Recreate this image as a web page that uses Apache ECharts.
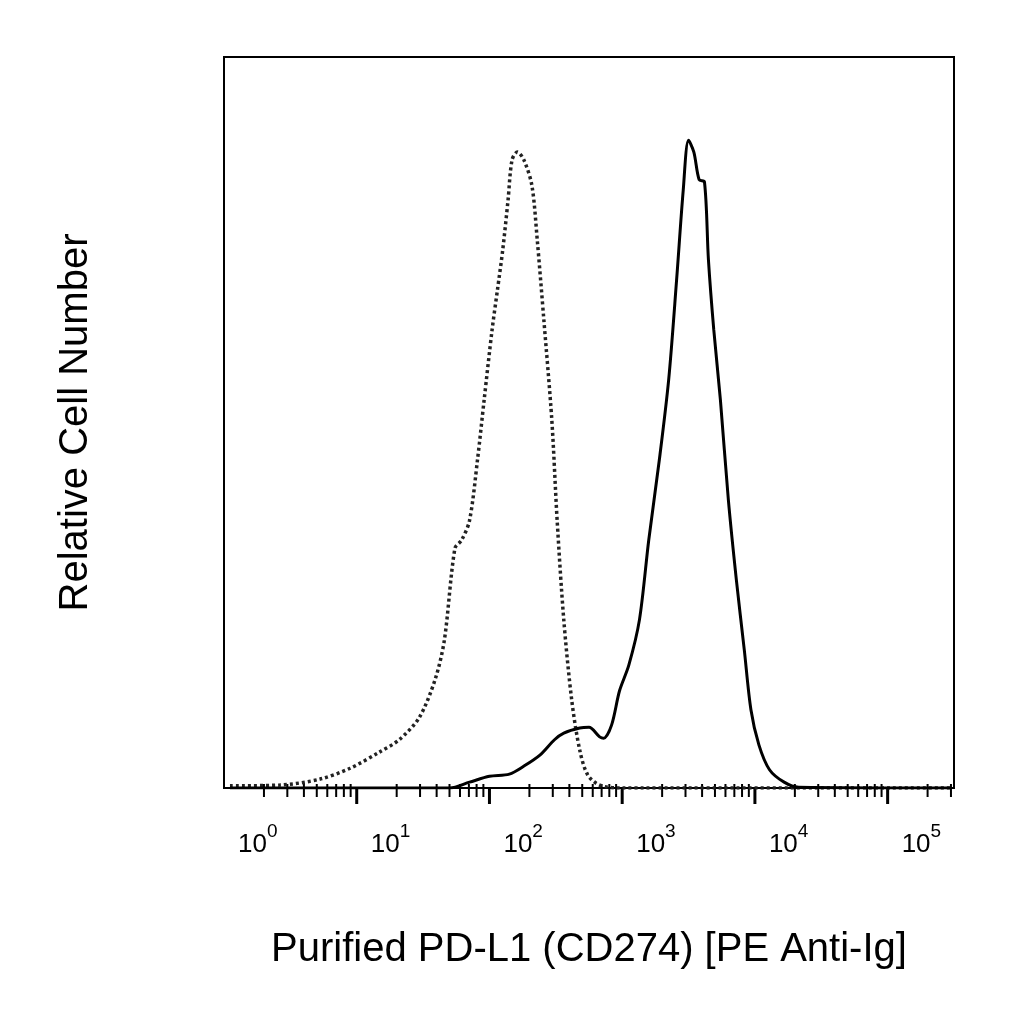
<!DOCTYPE html><html><head><meta charset="utf-8"><script src="https://cdn.jsdelivr.net/npm/echarts@6/dist/echarts.min.js"></script>
<style>html,body{margin:0;background:#fff}#c{width:1024px;height:1024px}</style></head><body><div id="c"></div><script>
// x values are log10(fluorescence), y relative count
const isotype = [[0.045,0.003],[0.42,0.004],[0.72,0.012],[0.95,0.027],[1.17,0.049],[1.32,0.066],[1.47,0.096],[1.59,0.148],[1.66,0.202],[1.74,0.328],[1.79,0.339],[1.85,0.366],[1.91,0.449],[1.96,0.531],[2.02,0.627],[2.06,0.681],[2.10,0.736],[2.14,0.804],[2.17,0.859],[2.21,0.870],[2.26,0.859],[2.32,0.824],[2.36,0.750],[2.41,0.640],[2.47,0.503],[2.51,0.366],[2.56,0.230],[2.62,0.120],[2.68,0.052],[2.74,0.018],[2.83,0.004],[2.98,0],[5.48,0]];
const pdl1 = [[0.045,0],[1.70,0],[1.85,0.008],[2.00,0.016],[2.15,0.019],[2.26,0.030],[2.38,0.045],[2.49,0.066],[2.56,0.075],[2.68,0.082],[2.75,0.083],[2.83,0.070],[2.86,0.068],[2.92,0.086],[2.98,0.133],[3.05,0.168],[3.13,0.230],[3.20,0.339],[3.28,0.449],[3.35,0.558],[3.41,0.695],[3.46,0.818],[3.50,0.886],[3.54,0.870],[3.58,0.832],[3.62,0.829],[3.65,0.722],[3.69,0.627],[3.74,0.531],[3.80,0.394],[3.86,0.285],[3.92,0.189],[3.97,0.107],[4.03,0.059],[4.11,0.025],[4.22,0.008],[4.33,0.001],[5.48,0]];
const decades = [0,1,2,3,4,5];
const minorMultipliers = [2,3,4,5,6,7,8,9];
const tickData = [];
decades.forEach(d=>{ if(d>0) tickData.push([d,1]); minorMultipliers.forEach(m=>{const v=d+Math.log10(m); if(v<=5.48) tickData.push([v,0]);}); });
const chart = echarts.init(document.getElementById('c'));
chart.setOption({
  animation:false,
  grid:{left:224,right:70,top:57,bottom:236,show:true,borderColor:'#000',borderWidth:2},
  xAxis:{type:'value',min:0,max:5.5,interval:1,axisLine:{lineStyle:{color:'#000',width:2}},axisTick:{show:false},splitLine:{show:false},
    axisLabel:{margin:34,align:'left',padding:[0,0,0,14],color:'#000',showMaxLabel:false,
      formatter:v=>Number.isInteger(v)?'{b|10}{s|'+v+'}':'',
      rich:{b:{fontSize:26,fontFamily:'Liberation Sans',color:'#000',padding:[10,0,0,0]},s:{fontSize:19,fontFamily:'Liberation Sans',color:'#000',verticalAlign:'top',padding:[0,0,14,0]}}},
    name:'Purified PD-L1 (CD274) [PE Anti-Ig]',nameLocation:'middle',nameGap:142,
    nameTextStyle:{fontSize:40,fontFamily:'Liberation Sans',color:'#000'}},
  yAxis:{type:'value',min:0,max:1,show:true,axisLine:{show:false},axisTick:{show:false},axisLabel:{show:false},splitLine:{show:false},
    name:'Relative Cell Number',nameLocation:'middle',nameGap:128,nameTextStyle:{fontSize:40,fontFamily:'Liberation Sans',color:'#000'}},
  series:[
    {type:'line',data:isotype,showSymbol:false,smooth:0.3,lineStyle:{color:'#222',width:3.5,type:[3,3]}},
    {type:'line',data:pdl1,showSymbol:false,smooth:0.3,lineStyle:{color:'#000',width:3}},
    {type:'custom',data:tickData,clip:false,silent:true,renderItem:(p,api)=>{const c=api.coord([api.value(0),0]);const L=api.value(1)?16:9;
      return {type:'line',shape:{x1:c[0],y1:c[1]-(api.value(1)?0:4),x2:c[0],y2:c[1]+L},style:{stroke:'#000',lineWidth:api.value(1)?3:2}};}}
  ]
});
</script></body></html>
